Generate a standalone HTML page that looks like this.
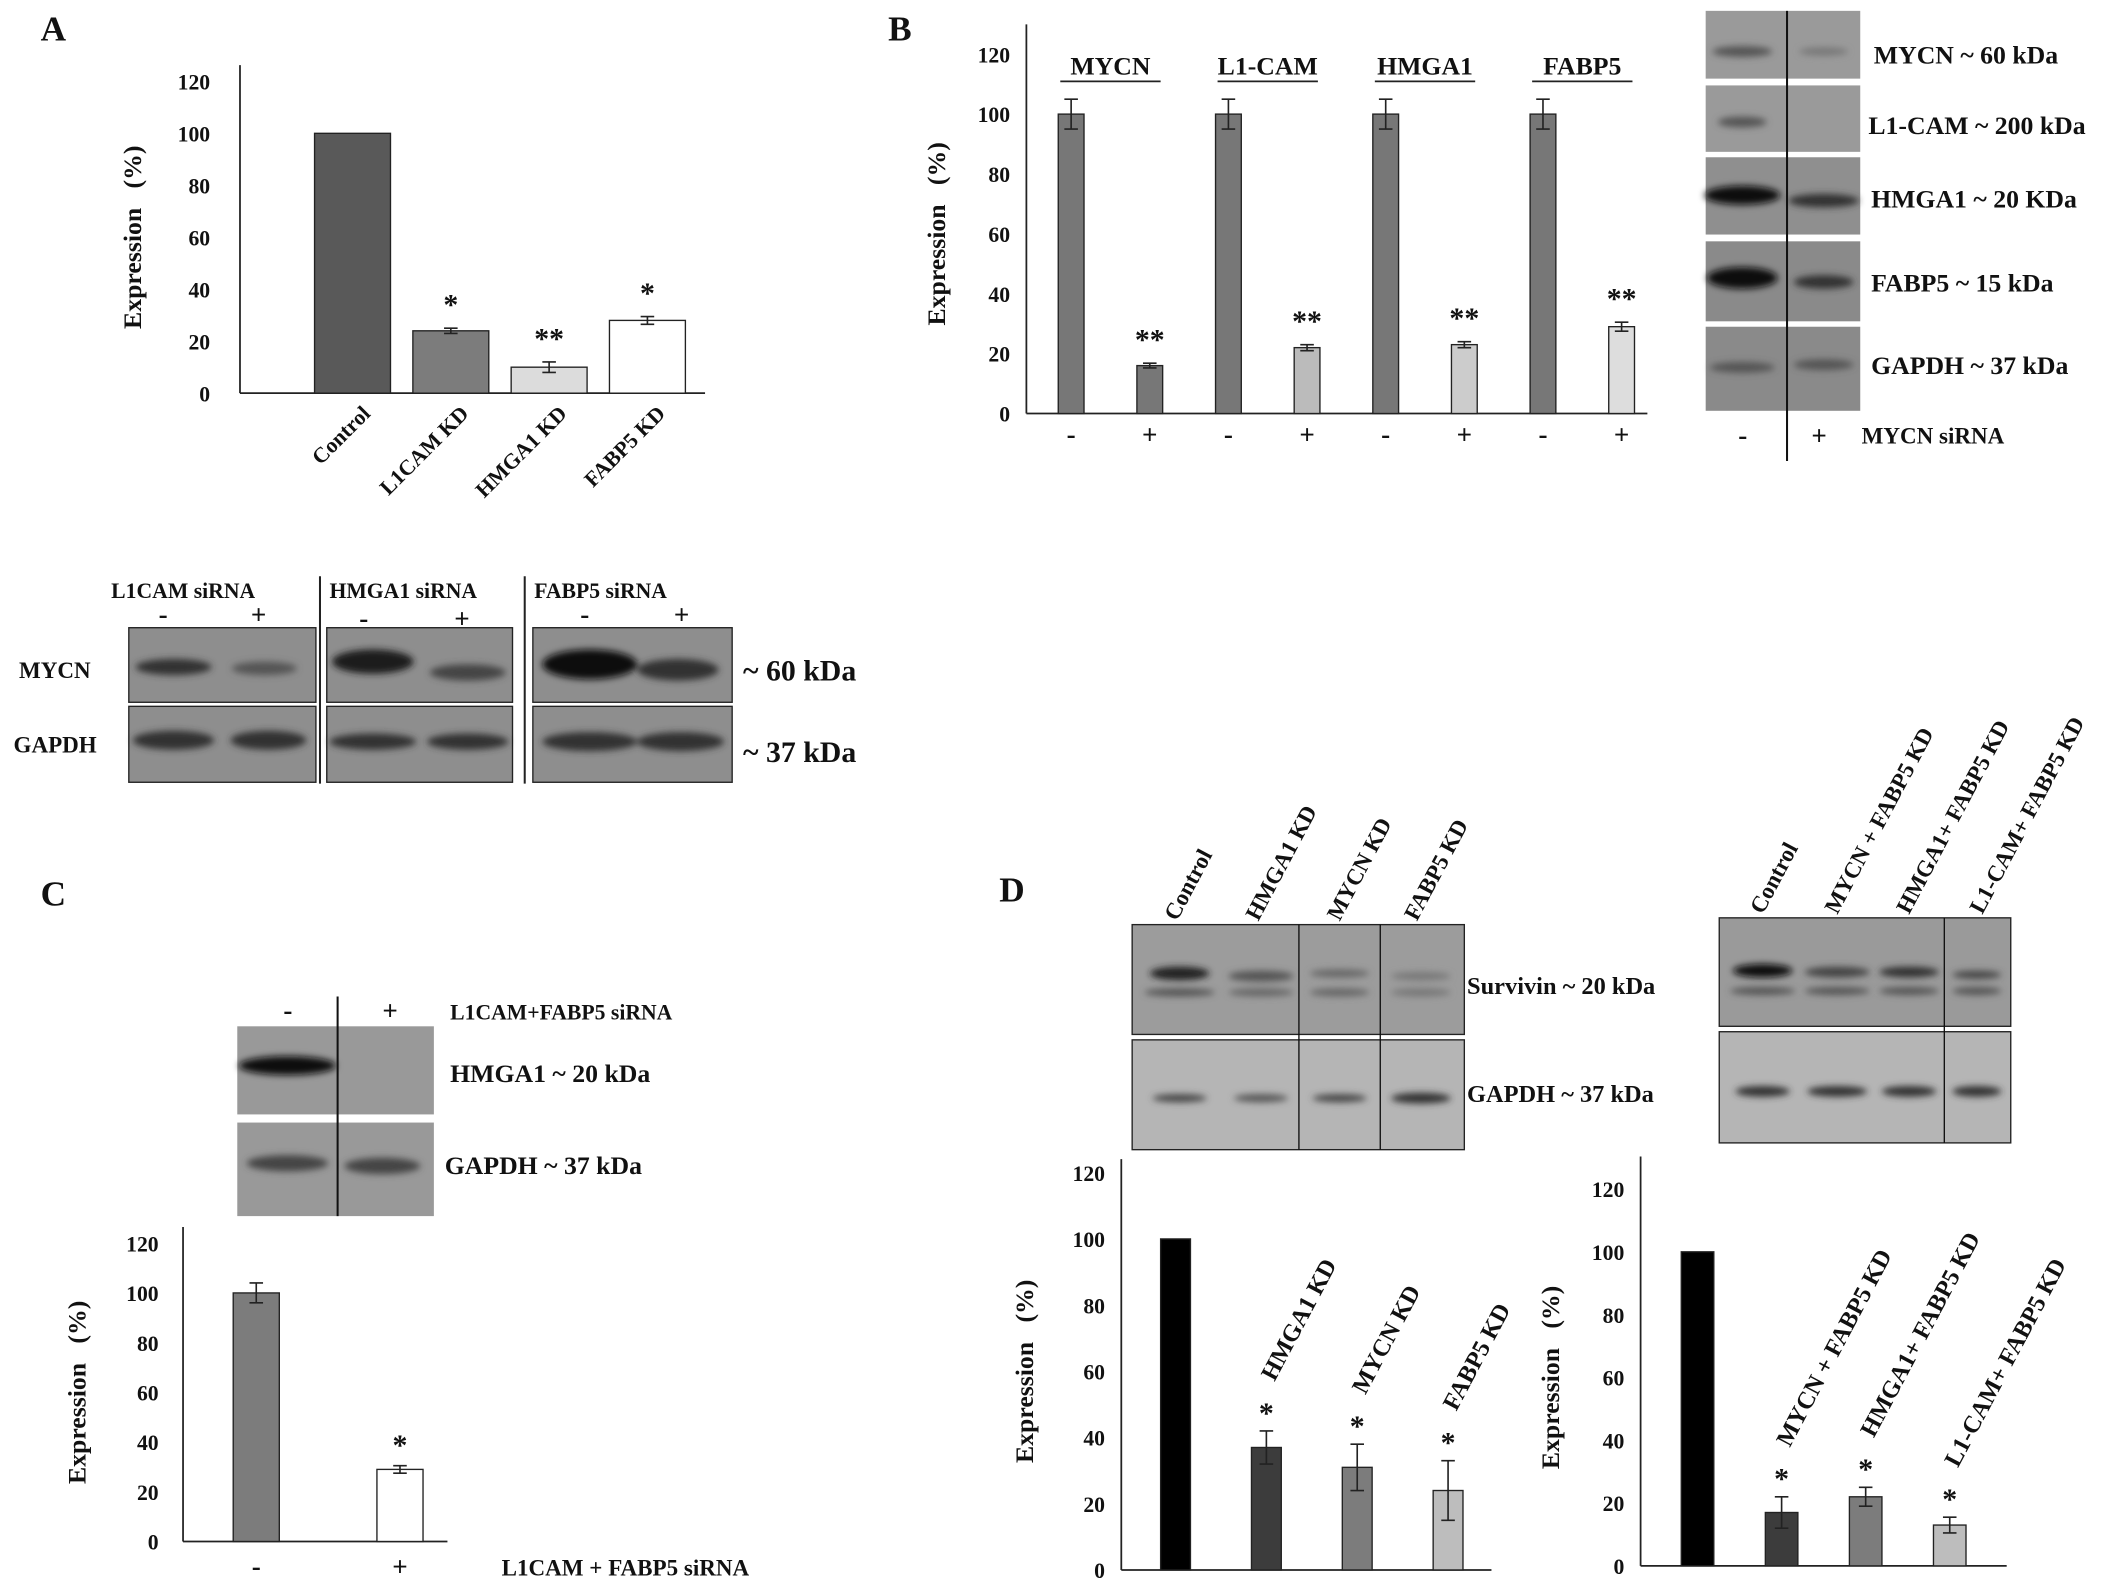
<!DOCTYPE html>
<html><head><meta charset="utf-8"><style>
html,body{margin:0;padding:0;background:#fff}
svg{display:block}
text{font-family:"Liberation Serif",serif;font-weight:bold;fill:#111}
</style></head><body>
<svg id="fig" width="2126" height="1593" viewBox="0 0 1568 1175" preserveAspectRatio="none" xmlns="http://www.w3.org/2000/svg">
<defs>
<filter id="blur"><feGaussianBlur stdDeviation="2.5"/></filter>
</defs>
<g id="static">
<text x="30" y="30" font-size="26">A</text>
<text x="655" y="30" font-size="26">B</text>
<text x="30" y="668" font-size="26">C</text>
<text x="737" y="665" font-size="26">D</text>

<g>
<text x="82" y="441" font-size="16">L1CAM siRNA</text>
<text x="243" y="441" font-size="16">HMGA1 siRNA</text>
<text x="394" y="441" font-size="16">FABP5 siRNA</text>
<text x="117" y="460" font-size="20">-</text><text x="185" y="460" font-size="20">+</text>
<text x="265" y="463" font-size="20">-</text><text x="335" y="463" font-size="20">+</text>
<text x="428" y="460" font-size="20">-</text><text x="497" y="460" font-size="20">+</text>
<line x1="236" y1="425" x2="236" y2="578" stroke="#222" stroke-width="1.5"/>
<line x1="387" y1="425" x2="387" y2="578" stroke="#222" stroke-width="1.5"/>
<text x="14" y="500" font-size="17">MYCN</text>
<text x="10" y="555" font-size="17">GAPDH</text>
<text x="548" y="502" font-size="22">~ 60  kDa</text>
<text x="548" y="562" font-size="22">~ 37  kDa</text>
<rect x="95" y="463" width="138" height="55" fill="#8e8e8e" stroke="#222"/>
<rect x="95" y="521" width="138" height="56" fill="#8e8e8e" stroke="#222"/>
<rect x="241" y="463" width="137" height="55" fill="#8e8e8e" stroke="#222"/>
<rect x="241" y="521" width="137" height="56" fill="#8e8e8e" stroke="#222"/>
<rect x="393" y="463" width="147" height="55" fill="#8e8e8e" stroke="#222"/>
<rect x="393" y="521" width="147" height="56" fill="#8e8e8e" stroke="#222"/>
<g filter="url(#blur)" fill="#333">
<ellipse cx="128" cy="492" rx="28" ry="6"/><ellipse cx="195" cy="493" rx="24" ry="5" fill="#555"/>
<ellipse cx="128" cy="546" rx="30" ry="7"/><ellipse cx="198" cy="546" rx="28" ry="7"/>
<ellipse cx="275" cy="488" rx="30" ry="9" fill="#1a1a1a"/><ellipse cx="345" cy="496" rx="28" ry="6" fill="#444"/>
<ellipse cx="275" cy="547" rx="32" ry="6"/><ellipse cx="345" cy="547" rx="30" ry="6"/>
<ellipse cx="435" cy="490" rx="35" ry="11" fill="#111"/><ellipse cx="500" cy="494" rx="30" ry="8" fill="#333"/>
<ellipse cx="435" cy="547" rx="35" ry="7"/><ellipse cx="502" cy="547" rx="32" ry="7"/>
</g>
</g>

<g>
<rect x="1258" y="8" width="114" height="50" fill="#9a9a9a"/>
<rect x="1258" y="63" width="114" height="49" fill="#9a9a9a"/>
<rect x="1258" y="116" width="114" height="57" fill="#8f8f8f"/>
<rect x="1258" y="178" width="114" height="59" fill="#8a8a8a"/>
<rect x="1258" y="241" width="114" height="62" fill="#8a8a8a"/>
<g filter="url(#blur)">
<ellipse cx="1285" cy="38" rx="22" ry="4" fill="#555"/><ellipse cx="1345" cy="38" rx="18" ry="3" fill="#777"/>
<ellipse cx="1285" cy="90" rx="18" ry="4" fill="#555"/>
<ellipse cx="1285" cy="144" rx="28" ry="7" fill="#111"/><ellipse cx="1345" cy="148" rx="26" ry="5" fill="#333"/>
<ellipse cx="1285" cy="205" rx="26" ry="8" fill="#111"/><ellipse cx="1345" cy="208" rx="22" ry="5" fill="#333"/>
<ellipse cx="1285" cy="271" rx="24" ry="4" fill="#555"/><ellipse cx="1345" cy="269" rx="22" ry="4" fill="#555"/>
</g>
<line x1="1318" y1="8" x2="1318" y2="340" stroke="#111" stroke-width="1.5"/>
<text x="1382" y="47" font-size="19">MYCN ~ 60 kDa</text>
<text x="1378" y="99" font-size="19">L1-CAM ~ 200 kDa</text>
<text x="1380" y="153" font-size="19">HMGA1 ~ 20 KDa</text>
<text x="1380" y="215" font-size="19">FABP5 ~ 15 kDa</text>
<text x="1380" y="276" font-size="19">GAPDH ~ 37 kDa</text>
<text x="1282" y="328" font-size="20">-</text><text x="1336" y="328" font-size="20">+</text>
<text x="1373" y="327" font-size="17">MYCN siRNA</text>
</g>

<g>
<text x="209" y="752" font-size="20">-</text><text x="282" y="752" font-size="20">+</text>
<text x="332" y="752" font-size="16">L1CAM+FABP5 siRNA</text>
<rect x="175" y="757" width="145" height="65" fill="#999"/>
<rect x="175" y="828" width="145" height="69" fill="#999"/>
<g filter="url(#blur)">
<ellipse cx="212" cy="786" rx="36" ry="7" fill="#111"/>
<ellipse cx="212" cy="858" rx="30" ry="6" fill="#444"/><ellipse cx="282" cy="860" rx="28" ry="6" fill="#444"/>
</g>
<line x1="249" y1="735" x2="249" y2="897" stroke="#111" stroke-width="1.5"/>
<text x="332" y="798" font-size="19">HMGA1 ~ 20 kDa</text>
<text x="328" y="866" font-size="19">GAPDH ~ 37 kDa</text>
</g>

<g>
<rect x="835" y="682" width="245" height="81" fill="#9c9c9c" stroke="#222"/>
<rect x="835" y="767" width="245" height="81" fill="#b5b5b5" stroke="#222"/>
<g filter="url(#blur)">
<ellipse cx="870" cy="718" rx="22" ry="5" fill="#222"/><ellipse cx="870" cy="732" rx="26" ry="3" fill="#555"/>
<ellipse cx="930" cy="720" rx="24" ry="4" fill="#555"/><ellipse cx="930" cy="732" rx="24" ry="3" fill="#666"/>
<ellipse cx="988" cy="718" rx="22" ry="3" fill="#666"/><ellipse cx="988" cy="732" rx="22" ry="3" fill="#666"/>
<ellipse cx="1048" cy="720" rx="22" ry="3" fill="#777"/><ellipse cx="1048" cy="732" rx="22" ry="3" fill="#777"/>
<ellipse cx="870" cy="810" rx="20" ry="3" fill="#444"/><ellipse cx="930" cy="810" rx="20" ry="3" fill="#555"/>
<ellipse cx="988" cy="810" rx="20" ry="3" fill="#444"/><ellipse cx="1048" cy="810" rx="22" ry="4" fill="#333"/>
</g>
<line x1="958" y1="682" x2="958" y2="848" stroke="#111"/><line x1="1018" y1="682" x2="1018" y2="848" stroke="#111"/>
<text x="1082" y="733" font-size="18">Survivin ~ 20 kDa</text>
<text x="1082" y="813" font-size="18">GAPDH ~ 37 kDa</text>
<rect x="1268" y="677" width="215" height="80" fill="#9a9a9a" stroke="#222"/>
<rect x="1268" y="761" width="215" height="82" fill="#b5b5b5" stroke="#222"/>
<g filter="url(#blur)">
<ellipse cx="1300" cy="716" rx="22" ry="5" fill="#111"/><ellipse cx="1300" cy="731" rx="24" ry="3" fill="#555"/>
<ellipse cx="1355" cy="717" rx="24" ry="4" fill="#444"/><ellipse cx="1355" cy="731" rx="24" ry="3" fill="#555"/>
<ellipse cx="1408" cy="717" rx="22" ry="4" fill="#333"/><ellipse cx="1408" cy="731" rx="22" ry="3" fill="#555"/>
<ellipse cx="1458" cy="719" rx="18" ry="3" fill="#444"/><ellipse cx="1458" cy="731" rx="18" ry="3" fill="#555"/>
<ellipse cx="1300" cy="805" rx="20" ry="4" fill="#333"/><ellipse cx="1355" cy="805" rx="22" ry="4" fill="#333"/>
<ellipse cx="1408" cy="805" rx="20" ry="4" fill="#333"/><ellipse cx="1458" cy="805" rx="18" ry="4" fill="#333"/>
</g>
<line x1="1434" y1="677" x2="1434" y2="843" stroke="#111"/>
<g font-size="17">
<text transform="translate(868,680) rotate(-62)">Control</text>
<text transform="translate(928,680) rotate(-62)">HMGA1 KD</text>
<text transform="translate(988,680) rotate(-62)">MYCN KD</text>
<text transform="translate(1045,680) rotate(-62)">FABP5 KD</text>
<text transform="translate(1300,675) rotate(-62)">Control</text>
<text transform="translate(1355,675) rotate(-62)">MYCN + FABP5 KD</text>
<text transform="translate(1408,675) rotate(-62)">HMGA1+ FABP5 KD</text>
<text transform="translate(1462,675) rotate(-62)">L1-CAM+ FABP5 KD</text>
</g>
</g>
</g>
<g id="charts"></g>
</svg>
<script>
const aCats = ["Control","L1CAM KD","HMGA1 KD","FABP5 KD"];
const aVals = [100,24,10,28];
const aErr = [0,1,2,1.5];
const aSig = ["","*","**","*"];
const bGenes = ["MYCN","L1-CAM","HMGA1","FABP5"];
const bCats = ["-","+","-","+","-","+","-","+"];
const bVals = [100,16,100,22,100,23,100,29];
const bErr = [5,0.8,5,1,5,1,5,1.5];
const bSig = ["","**","","**","","**","","**"];
const cCats = ["-","+"];
const cVals = [100,29];
const cErr = [4,1.5];
const cSig = ["","*"];
const dlCats = ["Control","HMGA1 KD","MYCN KD","FABP5 KD"];
const dlVals = [100,37,31,24];
const dlErr = [0,5,7,9];
const dlSig = ["","*","*","*"];
const drCats = ["Control","MYCN + FABP5 KD","HMGA1+ FABP5 KD","L1-CAM+ FABP5 KD"];
const drVals = [100,17,22,13];
const drErr = [0,5,3,2.5];
const drSig = ["","*","*","*"];
const yTicks = [0,20,40,60,80,100,120];

const NS = "http://www.w3.org/2000/svg";
const root = document.getElementById("charts");
function mk(tag, attrs, parent, txt){
  const e = document.createElementNS(NS, tag);
  for (const k in attrs) e.setAttribute(k, attrs[k]);
  if (txt !== undefined) e.textContent = txt;
  (parent||root).appendChild(e);
  return e;
}
function chart(o){
  const g = mk("g", {});
  
  
  const y = v => o.y0 - (v/120)*(o.y0-o.y120);
  mk("line",{x1:o.ax,y1:o.y0,x2:o.ax,y2:o.top,stroke:"#222","stroke-width":1.3},g);
  mk("line",{x1:o.ax,y1:o.y0,x2:o.axEnd,y2:o.y0,stroke:"#222","stroke-width":1.3},g);
  yTicks.forEach(t=>{
    const tl = mk("text",{x:o.ax-o.tickGap,y:y(t)+6,"font-size":o.fs,"text-anchor":"end"},g,String(t));
    
    
  });
  const yl = mk("text",{transform:`translate(${o.ylx},${(o.y0+o.y120)/2}) rotate(-90)`,"font-size":o.fs+3,"text-anchor":"middle"},g,"Expression\u00a0\u00a0\u00a0(%)");
  
  
  o.vals.forEach((v,i)=>{
    const cx = o.x0 + i*o.step;
    const b = mk("rect",{x:cx-o.bw/2,y:y(v),width:o.bw,height:o.y0-y(v),fill:o.colors[i],stroke:"#222","stroke-width":1},g);
    
    
    const e = o.err[i];
    if (e>0){
      const eb = mk("path",{d:`M${cx},${y(v+e)}V${y(v-e)}M${cx-5},${y(v+e)}H${cx+5}M${cx-5},${y(v-e)}H${cx+5}`,stroke:"#222","stroke-width":1.2,fill:"none"},g);
      
      
    }
    if (o.sig[i]){
      const s = mk("text",{x:cx,y:y(v+e)-o.sigOff,"font-size":o.fs+6,"text-anchor":"middle"},g,o.sig[i]);
      
      
    }
    if (o.catMode==="below"){
      const t = mk("text",{x:cx,y:o.y0+o.catOff,"font-size":o.fs+4,"text-anchor":"middle"},g,o.cats[i]);
      
      
    } else if (o.catMode==="rot45"){
      const t = mk("text",{transform:`translate(${cx+14},${o.y0+16}) rotate(-45)`,"font-size":o.fs,"text-anchor":"end"},g,o.cats[i]);
      
      
    } else if (o.catMode==="above" && i>0){
      const t = mk("text",{transform:`translate(${cx+6},${y(v+e)-36}) rotate(-62)`,"font-size":o.fs+2},g,o.cats[i]);
      
      
    }
  });
  return {g,y};
}
chart({name:"panel-a-chart",ax:177,y0:290,y120:60,top:48,axEnd:520,x0:260,step:72.5,bw:56,
  vals:aVals,err:aErr,sig:aSig,cats:aCats,colors:["#595959","#7c7c7c","#dcdcdc","#ffffff"],
  fs:16,tickGap:22,ylx:104,sigOff:10,catMode:"rot45"});
const B = chart({name:"panel-b-chart",ax:757,y0:305,y120:40,top:18,axEnd:1215,x0:790,step:58,bw:19,
  vals:bVals,err:bErr,sig:bSig,cats:bCats,colors:["#777","#777","#777","#bbb","#777","#ccc","#777","#ddd"],
  fs:16,tickGap:12,ylx:697,sigOff:10,catMode:"below",catOff:22});
bGenes.forEach((gname,i)=>{
  const cx = 790 + (2*i+0.5)*58;
  const t = mk("text",{x:cx,y:55,"font-size":19,"text-anchor":"middle"},B.g,gname);
  
  
  mk("line",{x1:cx-37,y1:60,x2:cx+37,y2:60,stroke:"#222","stroke-width":1.3},B.g);
});
const C = chart({name:"panel-c-chart",ax:135,y0:1137,y120:917,top:905,axEnd:330,x0:189,step:106,bw:34,
  vals:cVals,err:cErr,sig:cSig,cats:cCats,colors:["#7c7c7c","#ffffff"],
  fs:16,tickGap:18,ylx:63,sigOff:8,catMode:"below",catOff:25});
const cx = mk("text",{x:370,y:1162,"font-size":17},C.g,"L1CAM + FABP5 siRNA");


chart({name:"panel-d-left-chart",ax:827,y0:1158,y120:865,top:855,axEnd:1100,x0:867,step:67,bw:22,
  vals:dlVals,err:dlErr,sig:dlSig,cats:dlCats,colors:["#000","#3c3c3c","#7c7c7c","#bdbdbd"],
  fs:16,tickGap:12,ylx:762,sigOff:6,catMode:"above"});
chart({name:"panel-d-right-chart",ax:1210,y0:1155,y120:877,top:853,axEnd:1480,x0:1252,step:62,bw:24,
  vals:drVals,err:drErr,sig:drSig,cats:drCats,colors:["#000","#3c3c3c","#7c7c7c","#bdbdbd"],
  fs:16,tickGap:12,ylx:1150,sigOff:6,catMode:"above"});
</script>
</body></html>
